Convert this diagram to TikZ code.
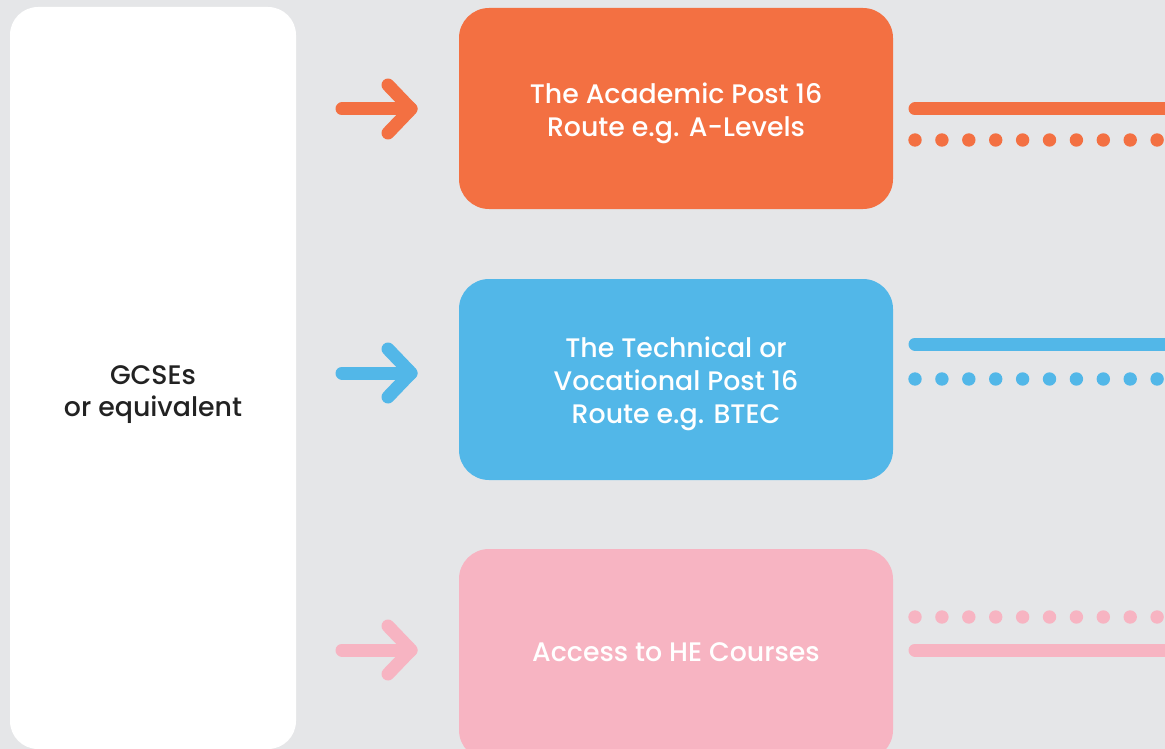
\documentclass[tikz,border=0pt]{standalone}
\usepackage{fontspec}
\setmainfont{Poppins Medium}
\definecolor{bg}{HTML}{E5E6E8}
\definecolor{cor}{HTML}{F37042}
\definecolor{cbl}{HTML}{52B7E8}
\definecolor{cpk}{HTML}{F7B4C2}
\definecolor{ctx}{HTML}{222222}
\begin{document}
\begin{tikzpicture}[x=1pt,y=-1pt,
  routebox/.style={rounded corners=30pt,inner sep=0pt},
  arr/.style={line width=13pt,line cap=round,line join=round},
  solidline/.style={line width=13pt,line cap=round},
  lbl/.style={text=white,font=\fontsize{26.8}{32.8}\selectfont,align=center}]
\useasboundingbox (0,0) rectangle (1165,749);
\clip (0,0) rectangle (1165,749);
\fill[bg] (0,0) rectangle (1165,749);
% left white box
\fill[white,rounded corners=28pt] (10,7) rectangle (296,749);
\node[font=\fontsize{26.8}{32}\selectfont,text=ctx,align=center] (g) at (153,395) {GCSEs\\or equivalent};
% boxes
\fill[cor,routebox] (459,8) rectangle (893,209);
\fill[cbl,routebox] (459,279) rectangle (893,480);
\fill[cpk,routebox] (459,549) rectangle (893,760);
\node[lbl] (a) at (676,113) {The Academic Post 16\\Route e.g. A-Levels};
\node[lbl] (b) at (676,384) {The Technical or\\Vocational Post 16\\Route e.g. BTEC};
\node[lbl] (c) at (676,652) {Access to HE Courses};
% arrows
\foreach \yy/\cc in {109/cor,373/cbl,650/cpk}{
  \coordinate (s) at (342,\yy);
  \coordinate (t) at (411,\yy);
  \draw[arr,\cc] (s) -- (t);
  \draw[arr,\cc] (388,\yy-24) -- (t) -- (388,\yy+24);
}
% right lines
\draw[solidline,cor] (915,109) -- (1200,109);
\draw[solidline,cbl] (915,344) -- (1200,344);
\draw[solidline,cpk] (915,650) -- (1200,650);
\foreach \i in {0,...,10}{
  \fill[cor] (915+26.9*\i,140) circle (6.7pt);
  \fill[cbl] (915+26.9*\i,379) circle (6.7pt);
  \fill[cpk] (915+26.9*\i,617) circle (6.7pt);
}
\end{tikzpicture}
\end{document}
